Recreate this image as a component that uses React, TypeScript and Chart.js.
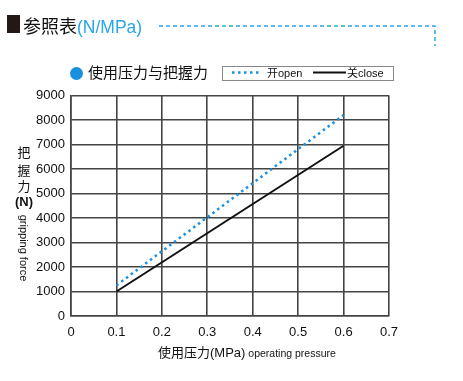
import React, { useEffect, useRef } from "react";
import { Chart, registerables } from "chart.js";

Chart.register(...registerables);

const pressures = [0.1, 0.6];
const openForce = [1250, 8200];
const closeForce = [1000, 6950];
const xTicksMin = 0;
const xTicksMax = 0.7;
const yTicksMin = 0;
const yTicksMax = 9000;

const BLUE = "#1a8fe0";
const LIGHTBLUE = "#2aa5e6";
const GRID = "#444444";
const SANS = "'Liberation Sans', Arial, Helvetica, sans-serif";
const CJK = "'Noto Sans CJK SC', 'Liberation Sans', sans-serif";

export default function App() {
  const ref = useRef<HTMLCanvasElement | null>(null);

  useEffect(() => {
    document.body.style.margin = "0";
    const canvas = ref.current;
    if (!canvas) return;
    const chart = new Chart(canvas, {
      type: "line",
      data: {
        datasets: [
          {
            label: "开open",
            data: pressures.map((p, i) => ({ x: p, y: openForce[i] })),
            borderColor: BLUE,
            borderWidth: 2.5,
            borderDash: [2.5, 3.5],
            pointRadius: 0,
            fill: false,
          },
          {
            label: "关close",
            data: pressures.map((p, i) => ({ x: p, y: closeForce[i] })),
            borderColor: "#111",
            borderWidth: 2,
            pointRadius: 0,
            fill: false,
          },
        ],
      },
      options: {
        animation: false,
        responsive: false,
        devicePixelRatio: 1,
        layout: { padding: { left: 0, right: 74, top: 95.5, bottom: 0 } },
        plugins: { legend: { display: false }, tooltip: { enabled: false } },
        scales: {
          x: {
            type: "linear",
            min: xTicksMin,
            max: xTicksMax,
            ticks: {
              stepSize: 0.1,
              color: "#111",
              padding: 9,
              maxRotation: 0,
              font: { family: SANS, size: 13 },
              callback: (v: any) => String(Math.round(Number(v) * 10) / 10),
            },
            grid: { color: GRID, lineWidth: 1.6, drawTicks: false },
            border: { color: GRID, width: 1.6 },
            afterFit: (s: any) => {
              s.height = 65;
            },
          },
          y: {
            type: "linear",
            min: yTicksMin,
            max: yTicksMax,
            ticks: {
              stepSize: 1000,
              color: "#111",
              padding: 6,
              font: { family: SANS, size: 13 },
              callback: (v: any) => String(v),
            },
            grid: { color: GRID, lineWidth: 1.6, drawTicks: false },
            border: { color: GRID, width: 1.6 },
            afterFit: (s: any) => {
              s.width = 71;
            },
          },
        },
      },
    });
    return () => chart.destroy();
  }, []);

  return (
    <div style={{ position: "fixed", left: 0, top: 0, width: 463, height: 381, background: "#fff", overflow: "hidden" }}>
      <canvas ref={ref} width={463} height={381} style={{ position: "absolute", left: 0, top: 0 }} />
      {/* Header */}
      <div style={{ position: "absolute", left: 7, top: 15, width: 13, height: 18, background: "#231815" }} />
      <div style={{ position: "absolute", left: 23, top: 13, fontFamily: CJK, fontSize: 18, lineHeight: "24px", color: "#111", whiteSpace: "nowrap" }}>
        参照表<span style={{ fontFamily: SANS, color: LIGHTBLUE, fontSize: 17.5 }}>(N/MPa)</span>
      </div>
      <svg width={463} height={60} style={{ position: "absolute", left: 0, top: 0 }}>
        <path d="M159 26 H435 V46" fill="none" stroke={LIGHTBLUE} strokeWidth={1.5} strokeDasharray="4 3" />
      </svg>
      {/* Legend header */}
      <div style={{ position: "absolute", left: 70, top: 66.5, width: 13, height: 13, borderRadius: "50%", background: "#1a8fe0" }} />
      <div style={{ position: "absolute", left: 88, top: 62, fontFamily: CJK, fontSize: 15, lineHeight: "20px", color: "#111", whiteSpace: "nowrap" }}>
        使用压力与把握力
      </div>
      <div style={{ position: "absolute", left: 221.5, top: 65.5, width: 170, height: 13, border: "1px solid #888", boxSizing: "content-box" }} />
      <svg width={463} height={100} style={{ position: "absolute", left: 0, top: 0 }}>
        <line x1={232} y1={72.5} x2={262} y2={72.5} stroke={BLUE} strokeWidth={2.5} strokeDasharray="2.5 3.5" />
        <line x1={313} y1={72.5} x2={346} y2={72.5} stroke="#111" strokeWidth={2} />
      </svg>
      <div style={{ position: "absolute", left: 267, top: 65, fontFamily: SANS, fontSize: 11, lineHeight: "15px", color: "#111", whiteSpace: "nowrap" }}>
        <span style={{ fontFamily: CJK }}>开</span>open
      </div>
      <div style={{ position: "absolute", left: 347, top: 65, fontFamily: SANS, fontSize: 11, lineHeight: "15px", color: "#111", whiteSpace: "nowrap" }}>
        <span style={{ fontFamily: CJK }}>关</span>close
      </div>
      {/* Y axis title */}
      <div style={{ position: "absolute", left: 15, top: 144, width: 18, textAlign: "center", fontFamily: CJK, fontSize: 13, lineHeight: "16px", color: "#111" }}>
        <div style={{ height: 18 }}>把</div>
        <div style={{ height: 16 }}>握</div>
        <div style={{ height: 16 }}>力</div>
        <div style={{ fontFamily: SANS, fontSize: 13, fontWeight: "bold", height: 16 }}>(N)</div>
      </div>
      <div style={{ position: "absolute", left: 24, top: 247.5, width: 0, height: 0 }}>
        <div style={{ position: "absolute", left: 0, top: 0, transform: "translate(-50%,-50%) rotate(90deg)", fontFamily: SANS, fontSize: 11, lineHeight: "12px", color: "#111", whiteSpace: "nowrap" }}>
          gripping force
        </div>
      </div>
      {/* X axis title */}
      <div style={{ position: "absolute", left: 158, top: 343, fontFamily: CJK, fontSize: 13, lineHeight: "18px", color: "#111", whiteSpace: "nowrap" }}>
        使用压力<span style={{ fontFamily: SANS }}>(MPa)</span>{" "}
        <span style={{ fontFamily: SANS, fontSize: 10.5 }}>operating pressure</span>
      </div>
    </div>
  );
}
